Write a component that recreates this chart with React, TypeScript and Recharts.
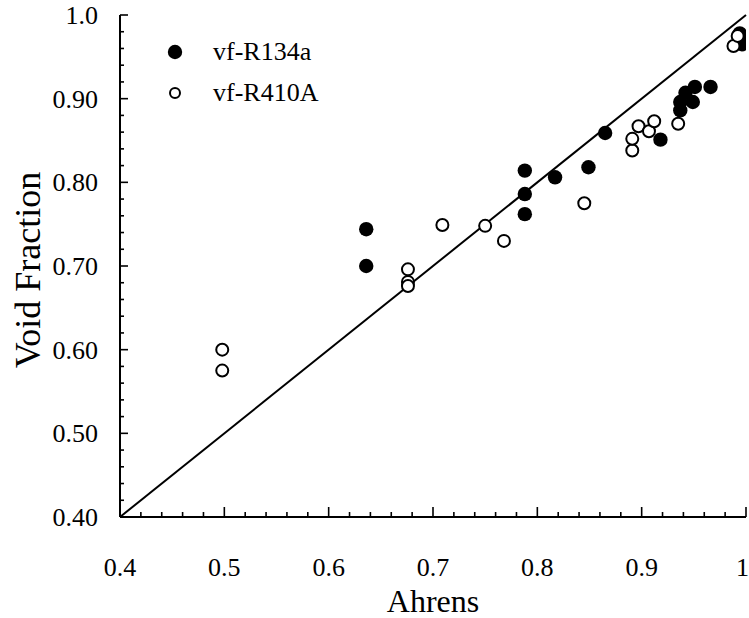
import React from 'react'
import {
  ScatterChart, Scatter, XAxis, YAxis, ReferenceLine, Legend,
} from 'recharts'

// Ahrens (x) vs. measured void fraction (y)
const R134A = [
  [0.636, 0.744], [0.636, 0.7], [0.788, 0.814], [0.788, 0.786], [0.788, 0.762],
  [0.817, 0.806], [0.849, 0.818], [0.865, 0.859], [0.918, 0.851], [0.937, 0.886],
  [0.937, 0.896], [0.942, 0.907], [0.951, 0.914], [0.949, 0.896], [0.966, 0.914],
  [0.994, 0.978], [0.997, 0.972], [0.996, 0.965],
]
const R410A = [
  [0.498, 0.6], [0.498, 0.575], [0.676, 0.696], [0.676, 0.681], [0.676, 0.676],
  [0.709, 0.749], [0.75, 0.748], [0.768, 0.73], [0.845, 0.775], [0.891, 0.838],
  [0.891, 0.852], [0.897, 0.867], [0.907, 0.861], [0.912, 0.873], [0.935, 0.87],
  [0.988, 0.963], [0.992, 0.975],
]
const SERIES = ['vf-R134a', 'vf-R410A']

const X_TICKS = [0.4, 0.42, 0.44, 0.46, 0.48, 0.5, 0.52, 0.54, 0.56, 0.58, 0.6, 0.62, 0.64, 0.66, 0.68,
  0.7, 0.72, 0.74, 0.76, 0.78, 0.8, 0.82, 0.84, 0.86, 0.88, 0.9, 0.92, 0.94, 0.96, 0.98, 1]
const Y_TICKS = X_TICKS
const X_LABELS: Record<string, string> = { '0.4': '0.4', '0.5': '0.5', '0.6': '0.6', '0.7': '0.7', '0.8': '0.8', '0.9': '0.9', '1': '1' }
const Y_LABELS: Record<string, string> = { '0.4': '0.40', '0.5': '0.50', '0.6': '0.60', '0.7': '0.70', '0.8': '0.80', '0.9': '0.90', '1': '1.0' }

const FONT = '"Liberation Serif", "Times New Roman", serif'
const INK = '#000'
const MAJOR = 10
const MINOR = 5
const TICK_FS = 26

const toPts = (arr: number[][]) => arr.map(([x, y]) => ({ x, y }))

function TickX({ x, y, payload, side }: any) {
  const lbl = X_LABELS[String(payload.value)]
  const len = lbl ? MAJOR : MINOR
  const dir = side === 'bottom' ? -1 : 1
  // last label sits on the page edge, keep it inside
  const last = payload.value === 1
  return (
    <g>
      <line x1={x} y1={y} x2={x} y2={y + dir * len} stroke={INK} strokeWidth={1.6} />
      {side === 'bottom' && lbl && (
        <text x={last ? x + 3 : x} y={y + 59} textAnchor={last ? 'end' : 'middle'}
          fontFamily={FONT} fontSize={TICK_FS} fill={INK}>{lbl}</text>
      )}
    </g>
  )
}

function TickY({ x, y, payload, side }: any) {
  const lbl = Y_LABELS[String(payload.value)]
  const len = lbl ? MAJOR - 2 : MINOR - 1
  const dir = side === 'left' ? 1 : -1
  return (
    <g>
      <line x1={x} y1={y} x2={x + dir * len} y2={y} stroke={INK} strokeWidth={1.6} />
      {side === 'left' && lbl && (
        <text x={x - 22} y={y + 9} textAnchor="end" fontFamily={FONT} fontSize={TICK_FS} fill={INK}>{lbl}</text>
      )}
    </g>
  )
}

const Filled = ({ cx, cy }: any) => <circle cx={cx} cy={cy} r={7.2} fill={INK} />
const Hollow = ({ cx, cy }: any) => <circle cx={cx} cy={cy} r={6} fill="#fff" stroke={INK} strokeWidth={2} />

function LegendBox() {
  return (
    <div style={{ fontFamily: FONT, fontSize: TICK_FS, color: INK }}>
      {SERIES.map((name, i) => (
        <div key={name} style={{ display: 'flex', alignItems: 'center', height: 41 }}>
          <svg width={20} height={20} style={{ marginRight: 28 }}>
            {i === 0
              ? <circle cx={10} cy={10} r={7.2} fill={INK} />
              : <circle cx={10} cy={10} r={5} fill="#fff" stroke={INK} strokeWidth={2} />}
          </svg>
          <span>{name}</span>
        </div>
      ))}
    </div>
  )
}

export default function App() {
  return (
    <div style={{ position: 'absolute', left: 0, top: 0, width: 749, height: 618, background: '#fff' }}>
      <ScatterChart width={749} height={618} margin={{ top: 15, right: 3, left: 0, bottom: 0 }}>
        <XAxis
          type="number" dataKey="x" domain={[0.4, 1]} allowDataOverflow ticks={X_TICKS} interval={0}
          height={101} tickSize={0} tickMargin={0} tickLine={false}
          axisLine={{ stroke: INK, strokeWidth: 2 }}
          tick={<TickX side="bottom" />}
          label={(p: any) => {
            const vb = p.viewBox
            return (
              <text x={vb.x + vb.width / 2} y={vb.y + 95} textAnchor="middle" fontFamily={FONT} fontSize={32} fill={INK}>Ahrens</text>
            )
          }}
        />
        <XAxis
          xAxisId="top" orientation="top" type="number" domain={[0.4, 1]} allowDataOverflow ticks={X_TICKS} interval={0}
          height={0} tickSize={0} tickMargin={0} tickLine={false}
          axisLine={{ stroke: INK, strokeWidth: 2 }}
          tick={<TickX side="top" />}
        />
        <YAxis
          type="number" dataKey="y" domain={[0.4, 1]} allowDataOverflow ticks={Y_TICKS} interval={0}
          width={120} tickSize={0} tickMargin={0} tickLine={false}
          axisLine={{ stroke: INK, strokeWidth: 2 }}
          tick={<TickY side="left" />}
          label={(p: any) => {
            const vb = p.viewBox
            const cx = vb.x + 28
            const cy = vb.y + vb.height / 2 + 4
            return (
              <text x={cx} y={cy} transform={`rotate(-90 ${cx} ${cy})`} textAnchor="middle" dominantBaseline="central"
                fontFamily={FONT} fontSize={36} fill={INK}>Void Fraction</text>
            )
          }}
        />
        <YAxis
          yAxisId="right" orientation="right" type="number" domain={[0.4, 1]} allowDataOverflow ticks={Y_TICKS} interval={0}
          width={0} tickSize={0} tickMargin={0} tickLine={false}
          axisLine={{ stroke: INK, strokeWidth: 2 }}
          tick={<TickY side="right" />}
        />
        <ReferenceLine segment={[{ x: 0.4, y: 0.4 }, { x: 1, y: 1 }]} stroke={INK} strokeWidth={2} />
        <Scatter name={SERIES[0]} data={toPts(R134A)} shape={<Filled />} isAnimationActive={false} />
        <Scatter name={SERIES[1]} data={toPts(R410A)} shape={<Hollow />} isAnimationActive={false} />
        <Legend
          layout="vertical" align="center" verticalAlign="middle"
          content={<LegendBox />}
          wrapperStyle={{ top: 31, left: 165, width: 'auto', height: 'auto' }}
        />
      </ScatterChart>
    </div>
  )
}
